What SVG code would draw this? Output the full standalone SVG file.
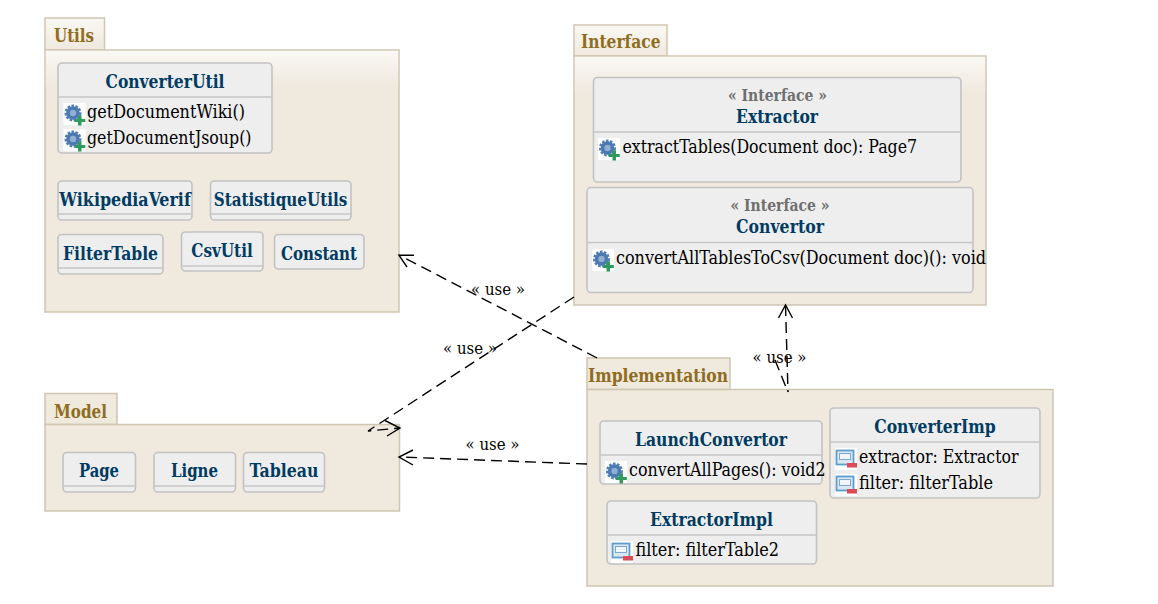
<svg xmlns="http://www.w3.org/2000/svg" width="1158" height="604" viewBox="0 0 1158 604">
<style>
text{font-family:"DejaVu Serif Condensed","DejaVu Serif","Liberation Serif",serif;white-space:pre}
.pk{fill:#efe9de;stroke:#cfc6b1;stroke-width:1.5}
.pg{fill:url(#pg);stroke:#cfc6b1;stroke-width:1.5}
.pl{font-size:18px;font-weight:700;fill:#8e6c20}
.cl{fill:#eeeeee;stroke:#c2c2c2;stroke-width:1.6}
.dv{stroke:#c6c6c6;stroke-width:1.4;fill:none}
.ti{font-size:18px;font-weight:700;fill:#003b62;text-anchor:middle}
.st{font-size:16px;font-weight:700;fill:#6f6f6f;text-anchor:middle}
.mb{font-size:18px;fill:#000}
.lb{font-size:17px;fill:#000;text-anchor:middle}
.dash{fill:none;stroke:#000;stroke-width:1.4;stroke-dasharray:11 6}
.head{fill:none;stroke:#000;stroke-width:1.4}
</style>
<defs>
<linearGradient id="pg" x1="0" y1="0" x2="0" y2="1"><stop offset="0" stop-color="#faf8f4"/><stop offset="1" stop-color="#efe9de"/></linearGradient>
<g id="op">
<rect width="22" height="22" fill="#fff"/>
<circle cx="9.500" cy="10" r="6.800" fill="#4c78ae" stroke="#4f7db5" stroke-width="3.400" stroke-dasharray="2.400 1.400"/>
<circle cx="9.500" cy="10" r="3.200" fill="#8fb0d4"/>
<path d="M14.500 12.500h3.500v3.500h3.800v3h-3.800v3.500h-3.500v-3.500h-3.500v-3h3.500z" fill="#2e9a5b"/>
</g>
<g id="fd">
<rect width="22" height="22" fill="#fff"/>
<rect x="1.500" y="2.500" width="17" height="14" fill="#dbe8f4" stroke="#5d9ccd" stroke-width="1.800"/>
<rect x="4.500" y="5.500" width="11" height="6" fill="#f2f6fa" stroke="#7aa9d2"/>
<rect x="12" y="15" width="10" height="4.500" fill="#dc4a55"/>
</g>
</defs>

<g id="Utils">
<rect class="pg" x="45" y="18" width="59.500" height="32"/>
<rect class="pk" x="45" y="50" width="354" height="262"/>
<rect x="45.800" y="50.800" width="352.400" height="36" fill="url(#pg)"/>
<text class="pl" x="54" y="42" textLength="40" lengthAdjust="spacingAndGlyphs">Utils</text>
</g>
<g id="Interface">
<rect class="pg" x="574" y="25" width="93" height="31"/>
<rect class="pk" x="574" y="56" width="412" height="249"/>
<rect x="574.800" y="56.800" width="410.400" height="36" fill="url(#pg)"/>
<text class="pl" x="581" y="48" textLength="79.500" lengthAdjust="spacingAndGlyphs">Interface</text>
</g>
<g id="Implementation">
<rect class="pk" x="587" y="358" width="143" height="31.500"/>
<rect class="pk" x="587" y="389.500" width="466" height="196.500"/>
<text class="pl" x="588" y="382" textLength="140" lengthAdjust="spacingAndGlyphs">Implementation</text>
</g>
<g id="Model">
<rect class="pk" x="45" y="393.500" width="72" height="31"/>
<rect class="pk" x="45" y="424.500" width="354.500" height="86.500"/>
<text class="pl" x="54" y="417.500" textLength="53" lengthAdjust="spacingAndGlyphs">Model</text>
</g>

<g id="ConverterUtil">
<rect class="cl" x="58" y="63" width="214" height="90" rx="4"/>
<path class="dv" d="M58 97H272"/>
<text class="ti" x="165" y="88" textLength="119" lengthAdjust="spacingAndGlyphs">ConverterUtil</text>
<use href="#op" x="63.500" y="103"/><text class="mb" x="87" y="118" textLength="158" lengthAdjust="spacingAndGlyphs">getDocumentWiki()</text>
<use href="#op" x="63.500" y="129"/><text class="mb" x="87" y="144" textLength="164.500" lengthAdjust="spacingAndGlyphs">getDocumentJsoup()</text>
</g>
<g id="WikipediaVerif">
<rect class="cl" x="58" y="181" width="134" height="39" rx="4"/><path class="dv" d="M58 214H192"/>
<text class="ti" x="125" y="206" textLength="131.500" lengthAdjust="spacingAndGlyphs">WikipediaVerif</text>
</g>
<g id="StatistiqueUtils">
<rect class="cl" x="210.500" y="181" width="140.500" height="39" rx="4"/><path class="dv" d="M210.500 214H351"/>
<text class="ti" x="280.500" y="206" textLength="133.500" lengthAdjust="spacingAndGlyphs">StatistiqueUtils</text>
</g>
<g id="FilterTable">
<rect class="cl" x="58" y="234.500" width="105" height="39.500" rx="4"/><path class="dv" d="M58 268H163"/>
<text class="ti" x="110.500" y="260" textLength="95" lengthAdjust="spacingAndGlyphs">FilterTable</text>
</g>
<g id="CsvUtil">
<rect class="cl" x="181.500" y="232" width="81.500" height="39" rx="4"/><path class="dv" d="M181.500 266H263"/>
<text class="ti" x="222" y="257" textLength="61.500" lengthAdjust="spacingAndGlyphs">CsvUtil</text>
</g>
<g id="Constant">
<rect class="cl" x="274.500" y="234.500" width="89.500" height="34.500" rx="4"/>
<text class="ti" x="319" y="260" textLength="76" lengthAdjust="spacingAndGlyphs">Constant</text>
</g>

<g id="Extractor">
<rect class="cl" x="593.500" y="77.500" width="367.500" height="104.500" rx="4"/><path class="dv" d="M593.500 132H961"/>
<text class="st" x="777.500" y="101" textLength="99" lengthAdjust="spacingAndGlyphs">« Interface »</text>
<text class="ti" x="777" y="123" textLength="82" lengthAdjust="spacingAndGlyphs">Extractor</text>
<use href="#op" x="598" y="138"/><text class="mb" x="622.500" y="153" textLength="294.500" lengthAdjust="spacingAndGlyphs">extractTables(Document doc): Page7</text>
</g>
<g id="Convertor">
<rect class="cl" x="587" y="187.500" width="386" height="105" rx="4"/><path class="dv" d="M587 242.500H973"/>
<text class="st" x="780" y="211" textLength="99" lengthAdjust="spacingAndGlyphs">« Interface »</text>
<text class="ti" x="780" y="233" textLength="88" lengthAdjust="spacingAndGlyphs">Convertor</text>
<use href="#op" x="592" y="249"/><text class="mb" x="616" y="264" textLength="370" lengthAdjust="spacingAndGlyphs">convertAllTablesToCsv(Document doc)(): void</text>
</g>

<g id="LaunchConvertor">
<rect class="cl" x="600" y="421" width="222" height="63" rx="4"/><path class="dv" d="M600 455H822"/>
<text class="ti" x="711" y="446" textLength="152" lengthAdjust="spacingAndGlyphs">LaunchConvertor</text>
<use href="#op" x="605" y="461"/><text class="mb" x="629" y="476" textLength="196.500" lengthAdjust="spacingAndGlyphs">convertAllPages(): void2</text>
</g>
<g id="ConverterImp">
<rect class="cl" x="830" y="408" width="210" height="90" rx="4"/><path class="dv" d="M830 442H1040"/>
<text class="ti" x="935" y="433" textLength="121.500" lengthAdjust="spacingAndGlyphs">ConverterImp</text>
<use href="#fd" x="835" y="448"/><text class="mb" x="859" y="463" textLength="159.500" lengthAdjust="spacingAndGlyphs">extractor: Extractor</text>
<use href="#fd" x="835" y="474"/><text class="mb" x="859" y="489" textLength="134" lengthAdjust="spacingAndGlyphs">filter: filterTable</text>
</g>
<g id="ExtractorImpl">
<rect class="cl" x="607" y="501" width="209.500" height="63" rx="4"/><path class="dv" d="M607 535H816.500"/>
<text class="ti" x="711.500" y="526" textLength="123" lengthAdjust="spacingAndGlyphs">ExtractorImpl</text>
<use href="#fd" x="611" y="541"/><text class="mb" x="635.500" y="556" textLength="143.500" lengthAdjust="spacingAndGlyphs">filter: filterTable2</text>
</g>

<g id="Page">
<rect class="cl" x="63" y="452.500" width="72.500" height="39.500" rx="4"/><path class="dv" d="M63 486H135.500"/>
<text class="ti" x="99" y="477" textLength="40" lengthAdjust="spacingAndGlyphs">Page</text>
</g>
<g id="Ligne">
<rect class="cl" x="154" y="452.500" width="81.500" height="39.500" rx="4"/><path class="dv" d="M154 486H235.500"/>
<text class="ti" x="194.500" y="477" textLength="47" lengthAdjust="spacingAndGlyphs">Ligne</text>
</g>
<g id="Tableau">
<rect class="cl" x="243.500" y="452.500" width="81" height="39.500" rx="4"/><path class="dv" d="M243.500 486H324.500"/>
<text class="ti" x="284" y="477" textLength="69" lengthAdjust="spacingAndGlyphs">Tableau</text>
</g>

<g id="connectors">
<path class="dash" d="M597 358L399 255"/>
<path class="head" d="M414 255.300H399L407 267"/>
<path class="dash" d="M574 297L368 431L400 428"/>
<path class="head" d="M385 420.500L400 428L387 436"/>
<path class="dash" d="M587 464L399 457"/>
<path class="head" d="M413 450L399 457L413 465"/>
<path class="dash" d="M785.500 305L788 392"/>
<path class="dash" d="M775 360L788 392"/>
<path class="head" d="M778.500 318L785.500 305L792.500 318"/>
<text class="lb" x="498" y="295" textLength="54" lengthAdjust="spacingAndGlyphs">« use »</text>
<text class="lb" x="470" y="354" textLength="54" lengthAdjust="spacingAndGlyphs">« use »</text>
<text class="lb" x="492.500" y="450" textLength="54" lengthAdjust="spacingAndGlyphs">« use »</text>
<text class="lb" x="779.500" y="363" textLength="54" lengthAdjust="spacingAndGlyphs">« use »</text>
</g>
</svg>
